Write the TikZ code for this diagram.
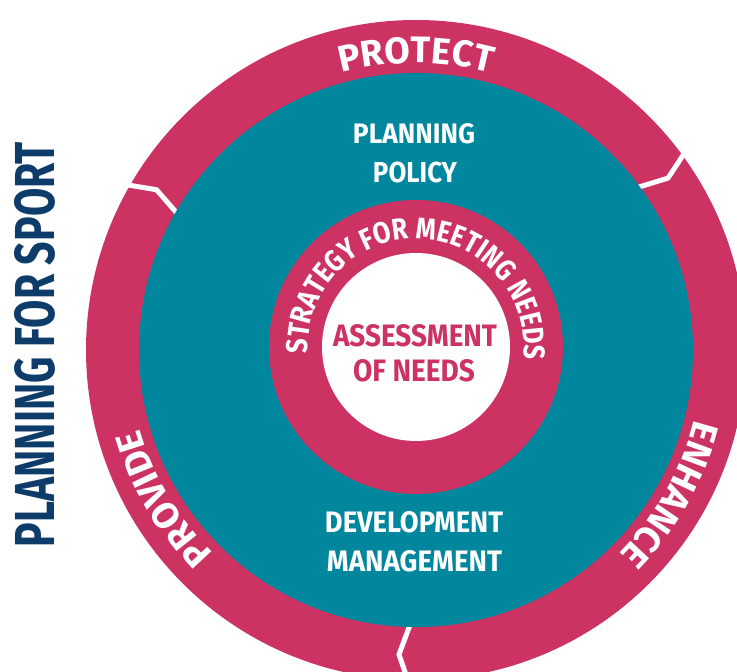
\documentclass[tikz,border=0pt]{standalone}
\usepackage{fontspec}
\usetikzlibrary{decorations.text}
\newfontfamily\cfa{Fira Sans}
\newfontfamily\cfb{Fira Sans}[FakeStretch=0.85]
\definecolor{ringpink}{HTML}{CC3262}
\definecolor{diskteal}{HTML}{00879D}
\definecolor{titlenavy}{HTML}{0D3C6A}
\begin{document}
\begin{tikzpicture}[x=1pt,y=1pt,
  sepline/.style={white, line width=5pt, line join=miter},
  midtext/.style={inner sep=0pt, text=white, font=\cfb\bfseries},
  ctrtext/.style={inner sep=0pt, text=ringpink, font=\cfb\bfseries},
  ringlabel/.style={decorate, decoration={text along path, text align=center, text color=white, text={|\cfa\bfseries\fontsize{37}{37}\selectfont|#1}}},
]
\useasboundingbox (0,0) rectangle (737,672);
\coordinate (O) at (416,322);
\coordinate (I) at (416,325);
% outer ring
\fill[ringpink] (O) circle[radius=330];
\foreach \t in {37,151,269.5} {
  \draw[sepline] ([shift={(O)}]\t:345) -- ([shift={(O)}]\t-2.7:305) -- ([shift={(O)}]\t:265);
}
% teal disc
\fill[diskteal] (O) circle[radius=277];
% inner ring and centre
\fill[ringpink] (I) circle[radius=147];
\fill[white] (I) circle[radius=94];
% ring labels
\path[ringlabel=PROTECT] ([shift={(O)}]130:287) arc[start angle=130, end angle=50, radius=287];
\path[ringlabel=ENHANCE] ([shift={(O)}]10.5:287) arc[start angle=10.5, end angle=-69.5, radius=287];
\path[ringlabel=PROVIDE] ([shift={(O)}]250.5:287) arc[start angle=250.5, end angle=170.5, radius=287];
\path[decorate, decoration={text along path, text align=center, text color=white, text={|\cfb\bfseries\fontsize{30}{30}\selectfont|STRATEGY FOR MEETING NEEDS}}] ([shift={(I)}]200:108) arc[start angle=200, end angle=-23, radius=108];
% middle texts
\node[midtext] (pp1) at (414,538.5) {\resizebox{122pt}{20pt}{PLANNING}};
\node[midtext] (pp2) at (415,499.5) {\resizebox{84pt}{20.5pt}{POLICY}};
\node[midtext] (dm1) at (414,149.5) {\resizebox{178pt}{21pt}{DEVELOPMENT}};
\node[midtext] (dm2) at (414.5,110.5) {\resizebox{175pt}{21pt}{MANAGEMENT}};
\node[ctrtext] (an1) at (415,336) {\resizebox{164pt}{22pt}{ASSESSMENT}};
\node[ctrtext] (an2) at (414,301) {\resizebox{122pt}{22pt}{OF NEEDS}};
% title
\node[inner sep=0pt, text=titlenavy, font=\cfb\bfseries, rotate=90] (title) at (35,327.5) {\resizebox{405pt}{40pt}{PLANNING FOR SPORT}};
\end{tikzpicture}
\end{document}
